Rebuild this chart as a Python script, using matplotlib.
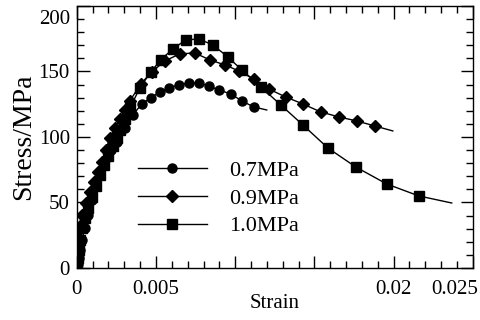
#!/usr/bin/env python3

"""
Stress-strain curves at three confining pressures.
"""

import matplotlib
matplotlib.use('Agg')
import matplotlib.pyplot as plt
from matplotlib.ticker import MultipleLocator
from matplotlib.transforms import ScaledTranslation

# 0.7MPa (circles); last point is the end of the fitted line, no marker
strain_07 = [0.00006, 0.00013, 0.00019, 0.00032, 0.00051, 0.00069, 0.00095,
             0.00120, 0.00145, 0.00177, 0.00215, 0.00253, 0.00303, 0.00354,
             0.00410, 0.00467, 0.00524, 0.00581, 0.00644, 0.00707, 0.00770,
             0.00833, 0.00896, 0.00972, 0.01042, 0.01117, 0.01199]
stress_07 = [3.1, 7.6, 13.7, 21.4, 30.5, 40.5, 51.9, 62.6, 73.3, 82.4, 90.1,
             96.2, 106.9, 116.8, 125.2, 129.8, 134.4, 137.4, 139.7, 141.2,
             141.2, 138.9, 135.9, 132.8, 127.5, 122.9, 120.6]

# 0.9MPa (diamonds)
strain_09 = [0.00003, 0.00006, 0.00013, 0.00019, 0.00032, 0.00057, 0.00082,
             0.00107, 0.00133, 0.00158, 0.00183, 0.00208, 0.00240, 0.00271,
             0.00303, 0.00335, 0.00404, 0.00473, 0.00556, 0.00650, 0.00745,
             0.00840, 0.00934, 0.01023, 0.01117, 0.01212, 0.01319, 0.01427,
             0.01540, 0.01654, 0.01768, 0.01881, 0.01995]
stress_09 = [4.6, 13.7, 22.9, 32.1, 40.5, 49.6, 58.0, 65.6, 73.3, 80.9, 90.1,
             99.2, 106.9, 113.7, 120.6, 127.5, 140.5, 149.6, 158.0, 163.4,
             164.1, 158.8, 155.0, 150.4, 144.3, 136.6, 130.5, 125.2, 119.1,
             115.3, 112.2, 108.4, 104.6]

# 1.0MPa (squares)
strain_10 = [0.00003, 0.00006, 0.00013, 0.00019, 0.00032, 0.00051, 0.00069,
             0.00095, 0.00120, 0.00145, 0.00170, 0.00196, 0.00227, 0.00253,
             0.00271, 0.00303, 0.00335, 0.00398, 0.00467, 0.00530, 0.00606,
             0.00688, 0.00770, 0.00859, 0.00953, 0.01042, 0.01162, 0.01288,
             0.01427, 0.01585, 0.01761, 0.01957, 0.02159, 0.02367]
stress_10 = [3.1, 7.6, 13.7, 21.4, 30.5, 38.2, 45.8, 54.2, 62.6, 71.0, 78.6,
             85.5, 93.1, 99.2, 105.3, 113.7, 122.1, 137.4, 149.6, 158.8, 167.2,
             174.0, 174.8, 170.2, 161.1, 151.1, 138.2, 124.4, 109.2, 91.6,
             77.1, 64.1, 55.0, 49.6]

labels = ['0.7MPa', '0.9MPa', '1.0MPa']
x_ticks = [0, 0.005, 0.01, 0.015, 0.02, 0.025]
x_tick_labels = ['0', '0.005', '', '', '0.02', '0.025']
y_ticks = [0, 50, 100, 150, 200]

plt.rcParams['font.family'] = ['Liberation Serif', 'DejaVu Serif']
plt.rcParams['font.size'] = 15

fig = plt.figure(figsize=(4.8, 3.2), dpi=100)
ax = fig.add_axes([0.160, 0.1625, 0.825, 0.819])

series = [
    (strain_07, stress_07, 'o', 6.5),
    (strain_09, stress_09, 'D', 6.0),
    (strain_10, stress_10, 's', 6.5),
]
for (xs, ys, mk, ms), lab in zip(series, labels):
    ax.plot(xs, ys, color='black', lw=1.0, marker=mk, ms=ms,
            markevery=slice(0, len(xs) - 1), label=lab)

ax.set_xlim(0, 0.025)
ax.set_ylim(0, 200)
ax.set_xticks(x_ticks)
ax.set_xticklabels(x_tick_labels)
ax.set_yticks(y_ticks)
ax.xaxis.set_minor_locator(MultipleLocator(0.001))
ax.yaxis.set_minor_locator(MultipleLocator(10))
ax.tick_params(which='both', direction='in', top=True, right=True, width=1)
ax.tick_params(which='major', length=9)
ax.tick_params(which='minor', length=5)
ax.tick_params(axis='x', which='major', pad=9)
ax.tick_params(axis='y', which='major', pad=5)
for sp in ax.spines.values():
    sp.set_linewidth(1.0)

# edge labels were nudged inward in the original
xl = ax.get_xticklabels()[-1]
xl.set_transform(xl.get_transform() + ScaledTranslation(-18 / 100, 0, fig.dpi_scale_trans))
yl = ax.get_yticklabels()[-1]
yl.set_transform(yl.get_transform() + ScaledTranslation(0, -11 / 100, fig.dpi_scale_trans))

ax.set_xlabel('Strain', labelpad=-4)
ax.set_ylabel('Stress/MPa', fontsize=20, labelpad=2)

ax.legend(loc='center left', bbox_to_anchor=(0.154, 0.265), frameon=False,
          borderpad=0, borderaxespad=0, handlelength=3.1, handletextpad=1.0,
          labelspacing=0.32, fontsize=16)

fig.savefig('out.png', dpi=100)
